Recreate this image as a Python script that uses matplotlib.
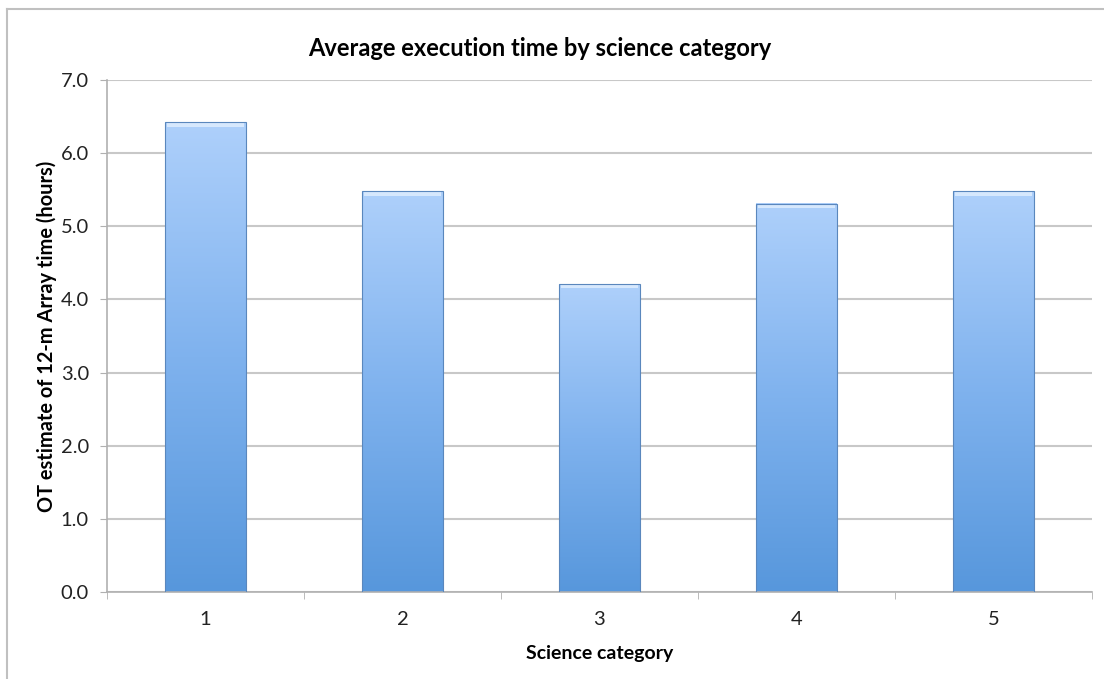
import matplotlib
matplotlib.use("Agg")
import matplotlib.pyplot as plt
import numpy as np
from matplotlib.colors import LinearSegmentedColormap
from matplotlib.lines import Line2D

categories = ["1", "2", "3", "4", "5"]
values = [6.42, 5.48, 4.21, 5.31, 5.48]
yticks = [0.0, 1.0, 2.0, 3.0, 4.0, 5.0, 6.0, 7.0]

plt.rcParams['font.family'] = ['Lato', 'DejaVu Sans']

fig = plt.figure(figsize=(11.04, 6.79), dpi=100)
ax = fig.add_axes([107/1104, 1 - 592/679, (1092-107)/1104, (592-80)/679])

x = np.arange(len(categories))
bars = ax.bar(x, values, width=0.41, color='none', edgecolor='#5a87bd', linewidth=0.8, zorder=3)

cmap = LinearSegmentedColormap.from_list('g', ['#5797dc', '#7fb2ee', '#aed0fb'])
grad = np.linspace(0, 1, 256).reshape(-1, 1)
for b in bars:
    x0, w, h = b.get_x(), b.get_width(), b.get_height()
    ax.imshow(grad, cmap=cmap, origin='lower', aspect='auto',
              extent=[x0, x0 + w, 0, h], zorder=2)
    ax.fill_between([x0 + 0.01, x0 + w - 0.01], h - 0.06, h - 0.01, color='#d6e8fd', zorder=2.5, lw=0)

ax.set_xlim(-0.5, len(categories) - 0.5)
ax.set_ylim(0, 7)
ax.set_yticks(yticks)
ax.set_yticklabels([f"{v:.1f}" for v in yticks], fontsize=14.5, color='#222222')
ax.set_xticks(x)
ax.set_xticklabels(categories, fontsize=14.5, color='#222222')
ax.set_xticks(np.arange(-0.5, len(categories)), minor=True)
ax.tick_params(axis='x', which='major', length=0, pad=14)
ax.tick_params(axis='x', which='minor', length=5, color='#b0b0b0', direction='out')
ax.tick_params(axis='y', length=5, color='#b0b0b0', pad=8)
ax.yaxis.grid(True, color='#c8c8c8', linewidth=1.5, zorder=0)
ax.set_axisbelow(True)
for s in ['top', 'right']:
    ax.spines[s].set_visible(False)
for s in ['left', 'bottom']:
    ax.spines[s].set_color('#b0b0b0')
    ax.spines[s].set_linewidth(1.2)

ax.set_xlabel("Science category", fontsize=14, fontweight='bold', labelpad=12)
ax.set_ylabel("OT estimate of 12-m Array time (hours)", fontsize=14.4, fontweight='bold', labelpad=3)
fig.text(540 / 1104, 1 - 49/679, "Average execution time by science category",
         ha='center', va='center', fontsize=17, fontweight='bold')

fig.add_artist(Line2D([7/1104, 7/1104], [0, 1 - 9/679], color='#c0c0c0', lw=1.5))
fig.add_artist(Line2D([7/1104, 1], [1 - 9/679, 1 - 9/679], color='#c0c0c0', lw=1.5))

fig.savefig("out.png", dpi=100)
